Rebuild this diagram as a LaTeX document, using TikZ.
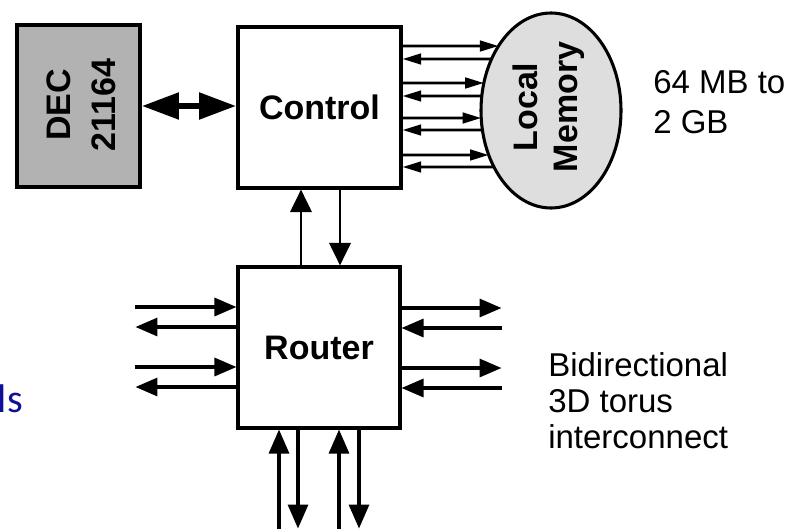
\documentclass[tikz,border=0pt]{standalone}
\usepackage{fontspec}
\setmainfont{Liberation Sans}
\newfontfamily\blufont{Carlito}
\usetikzlibrary{arrows.meta,shapes.geometric,intersections}
\definecolor{slideblue}{RGB}{16,16,150}
\definecolor{decgray}{RGB}{178,178,178}
\definecolor{memgray}{RGB}{222,222,222}
\begin{document}
\begin{tikzpicture}[x=0.75pt,y=-0.75pt,
  blk/.style={draw, line width=2.3pt, inner sep=0pt, font=\bfseries\fontsize{25.5pt}{30pt}\selectfont},
  rotlbl/.style={rotate=90, inner sep=0pt, align=center},
  txt/.style={inner sep=0pt, align=left, anchor=north west},
  bigdbl/.style={line width=5.2pt, {Triangle[length=28pt,width=19pt]}-{Triangle[length=28pt,width=19pt]}},
  vert/.style={line width=2.2pt, -{Triangle[length=17pt,width=16pt]}},
  rar/.style={line width=2.4pt, >={Triangle[length=16.5pt,width=13.5pt]}},
  bar/.style={line width=2.4pt, >={Triangle[length=18pt,width=15pt]}},
  memar/.style={line width=2pt},
  tor/.style={-{Triangle[length=14pt,width=8pt]}},
  tol/.style={{Triangle[length=14pt,width=8pt]}-}
]
\useasboundingbox (0,0) rectangle (809,528);

% blocks
\node[blk, fill=decgray, minimum width=92.25pt, minimum height=121.5pt] (dec) at (78.5,106) {};
\node[rotlbl, font=\bfseries\fontsize{25.5pt}{33.75pt}\selectfont] (declbl) at (81,105) {DEC\\21164};
\node[blk, minimum width=122.25pt, minimum height=120.75pt] (ctrl) at (319.5,107.5) {Control};
\node[blk, minimum width=121.5pt, minimum height=120.75pt] (rtr) at (319,347.5) {Router};
\node[draw, ellipse, line width=2.3pt, fill=memgray, inner sep=0pt, minimum width=105pt, minimum height=146.25pt] (mem) at (551,110.5) {};
\path[name path=memb] (mem.center) ellipse [x radius=52.5pt, y radius=73.1pt];
\node[rotlbl, font=\bfseries\fontsize{25.5pt}{30pt}\selectfont] (memlbl) at (548.5,107) {Local\\Memory};

% texts
\node[txt, font=\fontsize{24.75pt}{30pt}\selectfont] (size) at (653,70) {64 MB to\\2 GB};
\node[txt, font=\fontsize{24.75pt}{27pt}\selectfont] (torus) at (548,352) {Bidirectional\\3D torus\\interconnect};
\node[anchor=base east, inner sep=0pt, text=slideblue, font=\blufont\fontsize{30pt}{36pt}\selectfont] (ls) at (23,412) {ls};

% DEC <-> Control
\draw[bigdbl] (dec.east) -- (dec.east -| ctrl.west);

% Control <-> Router
\draw[vert] (rtr.north -| 301,0) -- (ctrl.south -| 301,0);
\draw[vert] (ctrl.south -| 340,0) -- (rtr.north -| 340,0);

% Control <-> Memory
\foreach \yy/\st in {46/tor,59/tol,83/tor,96/tol,118/tor,130/tol,155/tor,167/tol}{
  \path[name path=hl] (ctrl.east |- 0,\yy) -- ++(250,0);
  \path[name intersections={of=hl and memb, sort by=hl, by=ix}];
  \draw[memar,\st] (ctrl.east |- 0,\yy) -- (ix);
}

% Router links, left
\draw[rar,<-] (rtr.west |- 0,307) -- ++(-101,0);
\draw[rar,->] (rtr.west |- 0,327) -- ++(-101,0);
\draw[rar,<-] (rtr.west |- 0,367) -- ++(-101,0);
\draw[rar,->] (rtr.west |- 0,387) -- ++(-101,0);
% Router links, right
\draw[rar,->] (rtr.east |- 0,308) -- ++(100,0);
\draw[rar,<-] (rtr.east |- 0,328) -- ++(100,0);
\draw[rar,->] (rtr.east |- 0,368) -- ++(100,0);
\draw[rar,<-] (rtr.east |- 0,388) -- ++(100,0);
% Router links, bottom
\draw[bar,<-] (rtr.south -| 279,0) -- ++(0,102);
\draw[bar,->] (rtr.south -| 298,0) -- ++(0,99);
\draw[bar,<-] (rtr.south -| 339,0) -- ++(0,102);
\draw[bar,->] (rtr.south -| 359,0) -- ++(0,99);
\end{tikzpicture}
\end{document}
